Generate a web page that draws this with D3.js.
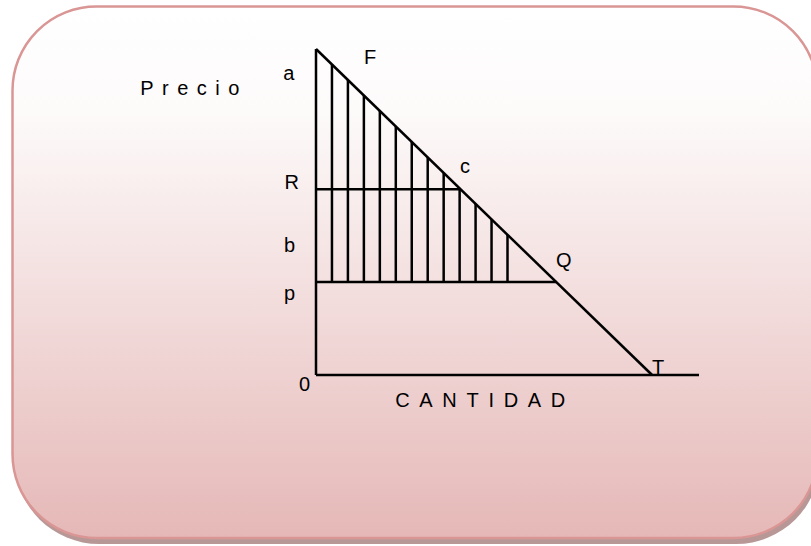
<!DOCTYPE html>
<html lang="es">
<head>
  <meta charset="UTF-8">
  <script src="https://d3js.org/d3.v7.min.js"></script>
  <style>
    body {
      margin: 0;
      background: #fff;
    }
    .line {
      fill: none;
      stroke: #000;
      stroke-width: 2.5;
    }
    .lbl {
      font: 20px "Liberation Sans", Arial, sans-serif;
      fill: #000;
    }
  </style>
</head>
<body>
  <div id="chart"></div>
  <script>
    // demand line: price a at quantity 0, falls to 0 at quantity T
    var demandStart = [0, 100];
    var demandEnd = [105.3, 0];

    // horizontal price levels (R and p)
    var levelNames = ["R", "p"];
    var levelPrices = [57, 28.5];

    // vertical hatch lines between p and the demand line
    var hatchQty = [5, 10, 15, 20, 25, 30, 35, 40, 45, 50, 55, 60];

    // labels placed in data units [quantity, price]
    var labelText = ["a", "F", "R", "c", "b", "Q", "p", "0", "T"];
    var labelQty = [-10.3, 15, -9.9, 45.1, -10, 75.2, -10, -5.3, 105.3];
    var labelPrice = [90.5, 95.4, 57.1, 62, 37.7, 33.1, 23, -4.9, 0.3];

    var axisTitles = ["P r e c i o", "C A N T I D A D"];

    var width = 811, height = 546;

    var svg = d3.select("#chart").append("svg")
      .attr("width", width)
      .attr("height", height);

    var defs = svg.append("defs");
    var grad = defs.append("linearGradient")
      .attr("id", "bg")
      .attr("x1", 0).attr("y1", 0).attr("x2", 0).attr("y2", 1);
    grad.append("stop").attr("offset", "0%").attr("stop-color", "#ffffff");
    grad.append("stop").attr("offset", "20%").attr("stop-color", "#fdfafa");
    grad.append("stop").attr("offset", "100%").attr("stop-color", "#e5b8b7");

    // box with shadow
    svg.append("rect")
      .attr("x", 15).attr("y", 11)
      .attr("width", 805).attr("height", 533)
      .attr("rx", 84).attr("ry", 84)
      .attr("fill", "#b89896");

    svg.append("rect")
      .attr("x", 12.5).attr("y", 6.5)
      .attr("width", 805).attr("height", 531.5)
      .attr("rx", 84).attr("ry", 84)
      .attr("fill", "url(#bg)")
      .attr("stroke", "#d99694")
      .attr("stroke-width", 2.5);

    var x = d3.scaleLinear().domain([0, 120]).range([316, 699]);
    var y = d3.scaleLinear().domain([0, 100]).range([375, 49]);

    function demandQty(price) {
      return demandEnd[0] * (1 - price / demandStart[1]);
    }
    function demandPrice(q) {
      return demandStart[1] * (1 - q / demandEnd[0]);
    }

    var g = svg.append("g");

    // axes
    g.append("line").attr("class", "line")
      .attr("x1", x(0)).attr("y1", y(0))
      .attr("x2", x(0)).attr("y2", y(100));
    g.append("line").attr("class", "line")
      .attr("x1", x(0)).attr("y1", y(0))
      .attr("x2", x(120)).attr("y2", y(0));

    // demand
    g.append("line").attr("class", "line")
      .attr("x1", x(demandStart[0])).attr("y1", y(demandStart[1]))
      .attr("x2", x(demandEnd[0])).attr("y2", y(demandEnd[1]));

    // price levels
    g.selectAll(".level")
      .data(levelPrices)
      .enter().append("line")
      .attr("class", "line level")
      .attr("x1", x(0))
      .attr("y1", function (d) { return y(d); })
      .attr("x2", function (d) { return x(demandQty(d)); })
      .attr("y2", function (d) { return y(d); });

    // hatching
    var pPrice = levelPrices[levelNames.indexOf("p")];
    g.selectAll(".hatch")
      .data(hatchQty)
      .enter().append("line")
      .attr("class", "line hatch")
      .attr("x1", function (d) { return x(d); })
      .attr("y1", y(pPrice))
      .attr("x2", function (d) { return x(d); })
      .attr("y2", function (d) { return y(demandPrice(d)); });

    // labels
    g.selectAll(".pt")
      .data(labelText)
      .enter().append("text")
      .attr("class", "lbl pt")
      .attr("x", function (d, i) { return x(labelQty[i]); })
      .attr("y", function (d, i) { return y(labelPrice[i]); })
      .text(function (d) { return d; });

    g.append("text")
      .attr("class", "lbl")
      .attr("x", x(-55.1)).attr("y", y(85.9))
      .style("letter-spacing", "8.5px")
      .text(axisTitles[0].replace(/ /g, ""));

    g.append("text")
      .attr("class", "lbl")
      .attr("x", x(24.8)).attr("y", y(-9.8))
      .style("letter-spacing", "9.7px")
      .text(axisTitles[1].replace(/ /g, ""));
  </script>
</body>
</html>
